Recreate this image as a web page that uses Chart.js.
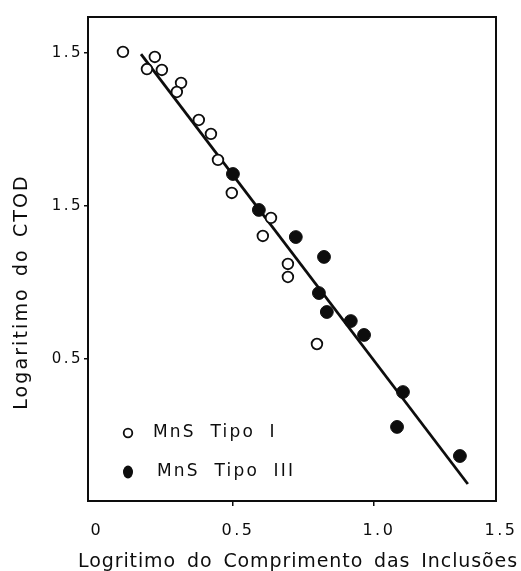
<!DOCTYPE html>
<html>
<head>
<meta charset="utf-8">
<script src="https://cdn.jsdelivr.net/npm/chart.js@4.4.1/dist/chart.umd.min.js"></script>
<style>
  html, body { margin: 0; padding: 0; background: #fff; }
  #wrap { width: 521px; height: 571px; position: relative; }
</style>
</head>
<body>
<div id="wrap"><canvas id="c"></canvas></div>
<script>
// ---- data ----
const tipoIX = [0.110, 0.223, 0.195, 0.248, 0.316, 0.301, 0.379, 0.422, 0.447, 0.496, 0.635, 0.606, 0.695, 0.695, 0.798];
const tipoIY = [2.507, 2.474, 2.395, 2.389, 2.304, 2.245, 2.062, 1.971, 1.801, 1.585, 1.422, 1.304, 1.121, 1.036, 0.598];
const tipoIIIX = [0.500, 0.592, 0.723, 0.823, 0.805, 0.833, 0.918, 0.965, 1.103, 1.082, 1.305];
const tipoIIIY = [1.709, 1.474, 1.297, 1.167, 0.931, 0.807, 0.748, 0.657, 0.284, 0.056, -0.134];
const fitX = [0.174, 1.333];
const fitY = [2.493, -0.317];

const xMin = -0.014, xMax = 1.433;
const yMin = -0.428, yMax = 2.735;
const xTickValues = [0, 0.5, 1.0, 1.433];
const xTickLabels = ['0', '0.5', '1.0', '1.5'];
const yTickValues = [0.5, 1.5, 2.5];
const yTickLabels = ['0.5', '1.5', '1.5'];

const seriesLabels = ['MnS Tipo I', 'MnS Tipo III'];
const xTitle = 'Logritimo do Comprimento das Inclusões';
const yTitle = 'Logaritimo do CTOD';

const INK = '#0d0d0d';
const FONT = '"DejaVu Sans", "Liberation Sans", sans-serif';

function pts(xs, ys) { return xs.map((x, i) => ({ x: x, y: ys[i] })); }

const spacingPlugin = {
  id: 'spacing',
  beforeUpdate(chart) { chart.ctx.letterSpacing = '2.5px'; },
  beforeLayout(chart) { chart.ctx.letterSpacing = '2.5px'; },
  beforeDraw(chart) { chart.ctx.letterSpacing = '2.5px'; }
};

const framePlugin = {
  id: 'frame',
  afterDraw(chart) {
    const { ctx, chartArea: a } = chart;
    ctx.save();
    ctx.strokeStyle = INK;
    ctx.lineWidth = 2;
    ctx.strokeRect(a.left, a.top, a.right - a.left, a.bottom - a.top);
    ctx.restore();

    // x title
    ctx.save();
    ctx.letterSpacing = '0.9px';
    ctx.wordSpacing = '4px';
    ctx.fillStyle = INK;
    ctx.font = '19px ' + FONT;
    ctx.textAlign = 'center';
    ctx.textBaseline = 'alphabetic';
    ctx.fillText(xTitle, 298, 567);
    ctx.restore();

    // y title (rotated)
    ctx.save();
    ctx.letterSpacing = '2.1px';
    ctx.wordSpacing = '3px';
    ctx.fillStyle = INK;
    ctx.font = '19px ' + FONT;
    ctx.translate(26.5, 292);
    ctx.rotate(-Math.PI / 2);
    ctx.textAlign = 'center';
    ctx.textBaseline = 'alphabetic';
    ctx.fillText(yTitle, 0, 0);
    ctx.restore();

    // legend inside the plot
    ctx.save();
    ctx.letterSpacing = '2.2px';
    ctx.wordSpacing = '7px';
    ctx.font = '17px ' + FONT;
    ctx.fillStyle = INK;
    ctx.textAlign = 'left';
    ctx.textBaseline = 'middle';
    const lx = a.left + 40;
    const rows = [a.bottom - 68, a.bottom - 29];
    ctx.beginPath();
    ctx.lineWidth = 1.8;
    ctx.strokeStyle = INK;
    ctx.arc(lx, rows[0], 4.3, 0, Math.PI * 2);
    ctx.stroke();
    ctx.fillText(seriesLabels[0], lx + 25, rows[0]);
    ctx.beginPath();
    ctx.ellipse(lx, rows[1], 5, 6.5, 0, 0, Math.PI * 2);
    ctx.fill();
    ctx.fillText(seriesLabels[1], lx + 29, rows[1]);
    ctx.restore();
  }
};

new Chart(document.getElementById('c'), {
  type: 'scatter',
  data: {
    datasets: [
      {
        label: seriesLabels[0],
        data: pts(tipoIX, tipoIY),
        pointStyle: 'circle',
        pointRadius: 5.3,
        pointBorderWidth: 1.8,
        pointBackgroundColor: '#ffffff',
        pointBorderColor: INK
      },
      {
        label: seriesLabels[1],
        data: pts(tipoIIIX, tipoIIIY),
        pointStyle: 'circle',
        pointRadius: 6.4,
        pointBorderWidth: 1,
        pointBackgroundColor: INK,
        pointBorderColor: INK
      },
      {
        type: 'line',
        label: 'ajuste',
        data: pts(fitX, fitY),
        showLine: true,
        pointRadius: 0,
        borderWidth: 2.8,
        borderColor: INK,
        fill: false
      }
    ]
  },
  options: {
    responsive: true,
    maintainAspectRatio: false,
    animation: false,
    devicePixelRatio: 1,
    layout: { padding: { top: 17, right: 25, left: 0, bottom: 0 } },
    plugins: { legend: { display: false }, tooltip: { enabled: false } },
    scales: {
      x: {
        type: 'linear',
        min: xMin, max: xMax,
        afterFit(s) { s.height = 70; s.paddingRight = 0; s.paddingLeft = 0; },
        afterBuildTicks(s) { s.ticks = xTickValues.map(v => ({ value: v })); },
        ticks: {
          autoSkip: false,
          maxRotation: 0,
          padding: 15,
          labelOffset: 5,
          color: INK,
          font: { family: FONT, size: 16 },
          callback: (v, i) => xTickLabels[i]
        },
        grid: {
          drawOnChartArea: false,
          drawTicks: true,
          tickLength: 5,
          lineWidth: 1.5,
          color: c => (c.tick && (c.tick.value === 0 || c.tick.value === xMax)) ? 'rgba(0,0,0,0)' : INK
        },
        border: { display: false },
        title: { display: false }
      },
      y: {
        type: 'linear',
        min: yMin, max: yMax,
        afterFit(s) { s.width = 88; s.paddingTop = 0; s.paddingBottom = 0; },
        afterBuildTicks(s) { s.ticks = yTickValues.map(v => ({ value: v })); },
        ticks: {
          autoSkip: false,
          padding: 1,
          color: INK,
          font: { family: FONT, size: 15 },
          callback: (v, i) => yTickLabels[i]
        },
        grid: {
          drawOnChartArea: false,
          drawTicks: true,
          tickLength: 4,
          lineWidth: 1.5,
          color: INK
        },
        border: { display: false },
        title: { display: false }
      }
    }
  },
  plugins: [spacingPlugin, framePlugin]
});
</script>
</body>
</html>
